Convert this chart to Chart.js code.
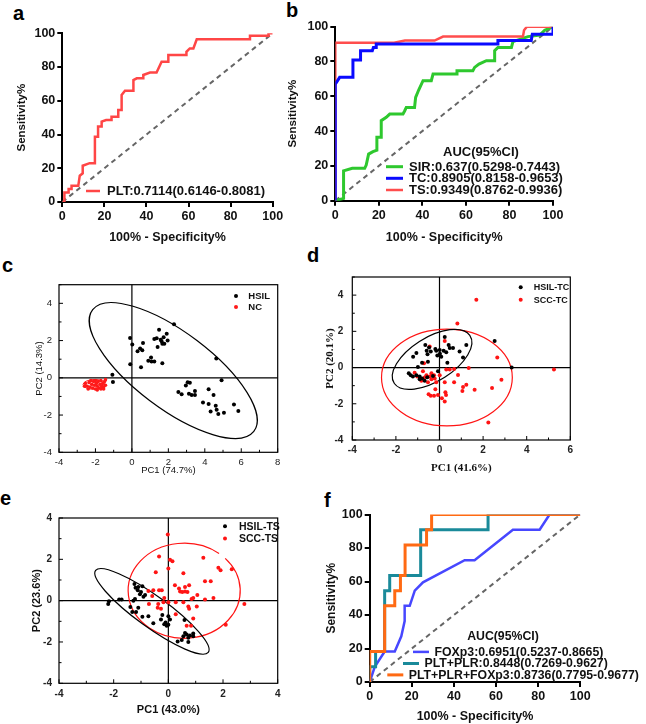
<!DOCTYPE html>
<html>
<head>
<meta charset="utf-8">
<script src="https://cdn.jsdelivr.net/npm/chart.js@4.4.0/dist/chart.umd.min.js"></script>
<style>
  html, body { margin: 0; padding: 0; background: #fff; }
  #fig { position: relative; width: 646px; height: 724px; overflow: hidden; }
  #fig canvas { position: absolute; }
  .lbl { position: absolute; font: bold 20px 'Liberation Sans', Arial, sans-serif; line-height: 1; color: #000; }
</style>
</head>
<body>
<div id="fig">
  <div class="lbl" style="left:13px;top:3px">a</div>
  <div class="lbl" style="left:286px;top:0px">b</div>
  <div class="lbl" style="left:2px;top:255px">c</div>
  <div class="lbl" style="left:307px;top:245px">d</div>
  <div class="lbl" style="left:0px;top:488px">e</div>
  <div class="lbl" style="left:324px;top:490px">f</div>
</div>
<script>
// ===== ROC data (x = 100% - Specificity%, y = Sensitivity%) =====
const rocTicks = [0, 20, 40, 60, 80, 100]
const diag = [[0, 0], [100, 100]]

const plt = [[0,0],[1,0],[1,5.7],[3,5.7],[3,7.7],[4.4,7.7],[4.4,9.7],[7.6,9.7],[8.3,15.6],[9.7,17],[9.7,21.5],[13,23],[15.5,23],[15.5,38.7],[17,38.7],[17,44.7],[18.7,44.7],[18.7,47.6],[20.8,48.6],[23.4,48.6],[23.4,50.6],[26.6,50.6],[26.6,54.5],[28.2,54.5],[28.2,63.4],[29.8,66],[33.8,66],[33.8,72.3],[35.4,73.3],[38.5,73.3],[38.5,75.3],[41.7,76.7],[44.8,76.7],[47.2,83.2],[50.4,83.2],[50.4,87.2],[59,87.2],[59,89],[60.6,91],[62.3,91],[63.9,96.4],[89.2,96.4],[89.2,98.6],[98,98.6],[98,100],[100,100]]

const sir = [[0,0],[3.8,1.3],[3.8,17.2],[7.8,18.6],[13.5,18.6],[14.2,20.5],[15.3,26.8],[17.3,28.2],[19.1,29],[19.1,36.4],[21.1,36.4],[21.1,46],[23.4,47.9],[25,49.8],[31.1,49.8],[31.9,51.7],[32.6,53.6],[36.4,53.6],[36.9,59.4],[38.3,63.6],[40.3,69],[44.1,69],[44.9,72.8],[55.6,72.8],[55.9,74.7],[63.2,74.7],[64,76.6],[66,78.5],[69.4,80.5],[73.2,80.5],[73.2,86.2],[74.7,88.1],[80.9,88.1],[81.6,91.4],[88.5,94.3],[93.9,95.2],[96.2,98],[100,100]]
const tc = [[0,0],[0,67],[1.2,69.3],[2,70.9],[8.1,70.9],[8.1,80.8],[11.6,80.8],[11.6,86.2],[17,86.2],[17.5,88],[18.8,88],[18.8,90],[74.7,90],[74.7,92],[90,92],[90.5,95.6],[100,95.6],[100,100]]
const ts = [[0,0],[0,90.8],[27,90.8],[32,92],[45.6,92],[49.5,94.3],[86.2,94.3],[86.7,98],[88,100],[100,100]]

const foxp3 = [[0,0],[2.4,9.1],[7.1,18.2],[11.9,18.2],[15,27.3],[16.6,36.4],[16.6,45.5],[19,45.5],[21.4,54.5],[25.3,59.5],[45.1,72.7],[49.8,72.7],[68,90.9],[80.7,90.9],[85.4,100],[100,100]]
const pltPlr = [[0,0],[0,9.1],[2.8,9.1],[2.8,18.2],[7.1,18.2],[7.1,54.5],[9.5,54.5],[9.5,63.6],[24.2,63.6],[24.2,90.9],[56.2,90.9],[56.2,100],[100,100]]
const pltPlrFoxp3 = [[0,0],[0,18.2],[7.1,18.2],[7.1,45.5],[11.9,45.5],[11.9,54.5],[14.6,54.5],[14.6,63.6],[16.8,63.6],[16.8,81.8],[27,81.8],[27,90.9],[29.4,90.9],[29.4,100],[100,100]]

const labelsA = ['PLT:0.7114(0.6146-0.8081)']
const labelsB = ['SIR:0.637(0.5298-0.7443)', 'TC:0.8905(0.8158-0.9653)', 'TS:0.9349(0.8762-0.9936)']
const labelsF = ['FOXp3:0.6951(0.5237-0.8665)', 'PLT+PLR:0.8448(0.7269-0.9627)', 'PLT+PLR+FOXp3:0.8736(0.7795-0.9677)']

// ===== PCA data =====
const cXTicks = [-4,-3,-2,-1,0,1,2,3,4,5,6,7,8]
const cYTicks = [-4,-3,-2,-1,0,1,2,3,4,5]
const dXTicks = [-4,-3,-2,-1,0,1,2,3,4,5,6]
const dYTicks = [-4,-3,-2,-1,0,1,2,3,4,5]
const eXTicks = [-4,-3,-2,-1,0,1,2,3,4]
const eYTicks = [-4,-3,-2,-1,0,1,2,3,4]

const hsilC = [[2.31,2.88],[4.63,1.04],[4.92,-0.13],[5.60,-1.43],[5.84,-1.78],[-0.10,2.14],[0.02,1.79],[-0.09,0.73],[0.50,0.57],[0.61,1.87],[0.31,1.43],[0.45,1.57],[0.57,1.48],[0.90,0.92],[1.05,1.09],[1.08,0.87],[1.23,0.88],[1.67,0.78],[1.23,2.09],[1.36,2.13],[1.49,2.58],[1.41,1.66],[1.58,2.04],[1.67,1.83],[1.63,1.97],[1.74,2.18],[1.91,2.36],[1.96,2.01],[1.78,1.83],[-1.07,0.17],[-1.04,-0.22],[3.06,-0.24],[3.18,-0.27],[2.96,-0.41],[2.55,-0.76],[2.73,-0.88],[3.13,-0.85],[3.28,-0.92],[3.46,-0.71],[3.46,-0.92],[4.21,-0.62],[4.48,-0.92],[3.90,-1.32],[4.21,-1.41],[4.60,-1.50],[4.32,-1.81],[4.65,-1.71],[4.74,-1.95],[5.05,-1.88]]
const ncC = [[-2.55,-0.3],[-2.45,-0.45],[-2.35,-0.25],[-2.3,-0.5],[-2.2,-0.35],[-2.15,-0.55],[-2.1,-0.2],[-2.05,-0.4],[-2.0,-0.6],[-1.95,-0.3],[-1.9,-0.45],[-1.85,-0.2],[-1.8,-0.55],[-1.75,-0.35],[-1.7,-0.15],[-1.65,-0.45],[-1.6,-0.3],[-1.55,-0.5],[-1.5,-0.2],[-1.45,-0.4],[-1.45,-0.1],[-2.25,-0.15],[-2.4,-0.6],[-1.9,-0.65],[-1.7,-0.6],[-2.6,-0.45],[-2.0,-0.15],[-1.55,-0.6]]

const hsilTC = [[2.53,1.46],[3.31,0.0],[0.24,1.69],[1.23,1.25],[0.92,0.88],[1.08,0.55],[0.36,0.27],[-0.65,1.25],[-0.48,1.11],[-0.59,0.93],[-0.40,0.88],[-0.55,0.73],[-1.06,0.80],[-1.21,0.59],[-0.99,0.03],[-0.80,0.27],[-0.53,0.32],[-0.15,0.93],[-0.10,0.67],[0.02,0.76],[0.08,0.59],[0.19,0.93],[0.31,0.85],[0.42,1.25],[0.47,1.08],[0.62,1.08],[-0.19,1.02],[0.01,0.97],[-1.41,-0.32],[-1.32,-0.43],[-1.22,-0.50],[-1.06,-0.43],[-0.91,-0.50],[-0.91,-0.64],[-0.80,-0.60],[-0.68,-0.73],[-0.56,-0.53],[-0.30,-0.46],[-0.07,-0.20]]
const sccTC = [[1.69,3.74],[0.82,2.43],[0.24,1.46],[-0.45,1.16],[2.65,0.55],[2.84,-0.67],[5.25,-0.11],[1.34,-0.03],[2.41,-1.13],[2.24,-3.04],[1.61,-1.22],[1.23,-0.95],[1.08,-1.08],[1.05,-1.29],[0.67,-0.81],[0.85,-0.41],[0.67,-0.08],[0.31,-0.11],[0.24,-0.81],[0.27,-1.37],[0.30,-1.51],[0.24,-1.87],[0.11,-1.69],[-0.07,-1.51],[-0.19,-1.2],[-0.25,-1.55],[-0.40,-1.55],[-0.50,-1.48],[-0.71,0.24],[-0.60,-0.43],[-0.45,-0.50],[-0.37,-0.64],[-0.25,-0.43],[-0.22,-0.60],[-0.37,-0.32],[-0.15,-0.81],[-1.14,-0.29],[-1.02,-0.50],[-0.83,-0.73],[-0.68,-0.55],[-0.76,-0.2],[-0.53,-0.81],[0.01,-0.43],[0.47,-0.11]]

const hsilTS = [[-2.20,-0.16],[-2.17,-0.03],[-1.80,0.05],[-1.71,0.05],[-1.24,0.81],[-1.20,0.63],[-1.12,0.5],[-1.10,0.66],[-1.04,0.31],[-1.00,0.42],[-0.95,0.70],[-0.91,0.19],[-0.85,0.27],[-1.22,0.08],[-1.28,0],[-1.39,-0.31],[-1.32,-0.55],[-1.10,-0.34],[-1.18,-0.55],[-0.95,-0.78],[-0.73,-0.75],[-0.55,-1.09],[-0.27,-0.91],[-0.22,-0.70],[0,-0.75],[0.06,-0.91],[-0.15,-1.14],[-0.06,-1.22],[0,-1.17],[-0.10,-1.06],[0.59,-0.94],[0.61,-1.56],[0.67,-1.64],[0.55,-1.72],[0.73,-1.80],[0.79,-1.69],[0.91,-1.59],[0.91,-1.72],[0.34,-1.98],[0.49,-1.91],[0.73,-2.0]]
const sccTS = [[-0.02,3.20],[-0.34,2.14],[-0.46,1.38],[0.06,1.98],[0.15,1.91],[0,1.56],[0.55,1.33],[1.28,2.08],[1.83,1.59],[1.91,1.47],[2.32,1.52],[1.34,0.94],[1.55,0.94],[1.65,0.13],[1.34,0.06],[2.78,-0.16],[2.10,-1.17],[0.24,0.75],[0.39,0.59],[0.43,0.44],[0.51,0.42],[0.61,0.66],[0.70,0.42],[0.76,0.75],[0.61,0.44],[0.85,0.08],[0.91,0.13],[1.06,0.27],[0.55,-0.08],[0.73,-0.28],[0.76,-0.39],[1.04,-0.28],[0.91,-0.86],[0.67,-1.22],[0.83,-1.22],[0.27,-0.66],[0.27,-0.08],[0,-0.08],[-0.15,0.13],[-0.24,0.5],[-0.34,0.5],[-0.39,-0.34],[-0.27,-0.39],[-0.37,-0.16],[-0.55,0.5],[-0.73,0.47],[-0.59,0.23],[-0.71,-0.16],[-0.18,-0.08]]

// confidence ellipses: [cx, cy, ux, uy, vx, vy] (center + two conjugate semi-axes)
const ellHsilC = [2.27, 0.39, 4.42, -3.27, -1.30, -1.61]
const ellNcC = [-2.08, -0.35, 0.6, 0.02, 0, 0.26]
const ellHsilTC = [-0.34, 0.45, 1.73, 1.33, 0.58, -0.99]
const ellSccTC = [0.34, -0.55, 3.0, 0, 0, 2.67]
const ellHsilTS = [-0.60, -0.52, 2.06, -1.98, -0.35, -0.60]
const ellSccTS = [0.58, 0.48, 2.05, 0, 0, 2.3]

const SANS = "'Liberation Sans', Arial, sans-serif"
const SERIF = "'Liberation Serif', 'Times New Roman', serif"
const fig = document.getElementById('fig')

// ===== plugins =====
const insetLegend = {
  id: 'insetLegend',
  afterDatasetsDraw(chart, args, opts) {
    if (!opts || !opts.rows) return
    const ctx = chart.ctx
    const a = chart.chartArea
    ctx.save()
    ctx.font = opts.font
    ctx.textBaseline = 'middle'
    ctx.fillStyle = opts.textColor || '#111'
    if (opts.title) {
      ctx.textAlign = 'center'
      ctx.fillText(opts.title, a.left + opts.titleX, a.top + opts.titleY)
    }
    ctx.textAlign = 'left'
    const sets = chart.data.datasets.filter(d => d.label)
    sets.forEach((d, i) => {
      const r = opts.rows[i]
      const x = a.left + r[0]
      const y = a.top + r[1]
      if (opts.marker === 'dot') {
        ctx.fillStyle = d.backgroundColor
        ctx.beginPath()
        ctx.arc(x, y, opts.dotR || 2, 0, Math.PI * 2)
        ctx.fill()
        ctx.fillStyle = opts.textColor || '#111'
        ctx.fillText(d.label, x + opts.gap, y + 0.5)
      } else {
        ctx.strokeStyle = d.borderColor
        ctx.lineWidth = d.borderWidth
        ctx.beginPath()
        ctx.moveTo(x, y)
        ctx.lineTo(x + opts.swatchW, y)
        ctx.stroke()
        ctx.fillText(d.label, x + opts.swatchW + opts.gap, y + 0.5)
      }
    })
    ctx.restore()
  }
}

const pcaFrame = {
  id: 'pcaFrame',
  beforeDatasetsDraw(chart, args, opts) {
    const { ctx, chartArea: a, scales } = chart
    const xs = scales.x, ys = scales.y
    ctx.save()
    ctx.strokeStyle = '#000'
    ctx.lineWidth = 1.2
    ctx.strokeRect(a.left, a.top, a.right - a.left, a.bottom - a.top)
    const x0 = xs.getPixelForValue(0)
    const y0 = ys.getPixelForValue(0)
    ctx.beginPath()
    ctx.moveTo(x0, a.top); ctx.lineTo(x0, a.bottom)
    ctx.moveTo(a.left, y0); ctx.lineTo(a.right, y0)
    ctx.stroke()
    // inner tick marks
    ctx.lineWidth = 1
    ctx.beginPath()
    xs.ticks.forEach(t => {
      const px = xs.getPixelForValue(t.value)
      const len = t.value % 2 ? 2.5 : 4
      ctx.moveTo(px, a.bottom); ctx.lineTo(px, a.bottom - len)
    })
    ys.ticks.forEach(t => {
      const py = ys.getPixelForValue(t.value)
      const len = t.value % 2 ? 2.5 : 4
      ctx.moveTo(a.left, py); ctx.lineTo(a.left + len, py)
    })
    ctx.stroke()
    // confidence ellipses
    ;(opts.ellipses || []).forEach(el => {
      const p = el.e
      const ex = xs.getPixelForValue(p[0]), ey = ys.getPixelForValue(p[1])
      const m = [
        xs.getPixelForValue(p[0] + p[2]) - ex, ys.getPixelForValue(p[1] + p[3]) - ey,
        xs.getPixelForValue(p[0] + p[4]) - ex, ys.getPixelForValue(p[1] + p[5]) - ey
      ]
      ctx.save()
      ctx.beginPath()
      ctx.transform(m[0], m[1], m[2], m[3], ex, ey)
      const g = el.gap || [0, 0]
      ctx.arc(0, 0, 1, g[1], g[0] + Math.PI * 2)
      ctx.restore()
      ctx.strokeStyle = el.color
      ctx.lineWidth = el.width || 1.2
      ctx.stroke()
    })
    ctx.restore()
  }
}

// ===== helpers =====
function addCanvas(box) {
  const c = document.createElement('canvas')
  c.width = box.w
  c.height = box.h
  c.style.left = box.l + 'px'
  c.style.top = box.t + 'px'
  fig.appendChild(c)
  return c
}

function fit(box, area) {
  return {
    padding: { left: 0, bottom: 0, top: area.t - box.t, right: box.l + box.w - area.r },
    yW: area.l - box.l,
    xH: box.t + box.h - area.b
  }
}

function setTicks(list) {
  return s => { s.ticks = list.map(v => ({ value: v })) }
}

function rocChart(p) {
  const g = fit(p.box, p.area)
  const yPad = p.yTitleX - p.box.l - p.yTitleSize * 0.6
  const xPad = p.box.t + p.box.h - p.xTitleY - p.xTitleSize * 0.6
  const axis = {
    type: 'linear', min: 0, max: 100,
    grid: { display: true, drawOnChartArea: false, drawTicks: true, tickLength: 5, color: '#000', lineWidth: 2 },
    border: { display: true, color: '#000', width: 2 },
    ticks: { color: '#111', font: { family: SANS, size: 12.5, weight: 'bold' }, padding: 2, maxRotation: 0, autoSkip: false }
  }
  new Chart(addCanvas(p.box), {
    type: 'line',
    data: {
      datasets: p.series.map(s => ({
        label: s.label, data: s.data, borderColor: s.color, borderWidth: s.width,
        pointRadius: 0, tension: 0, fill: false, order: s.order
      })).concat([{
        data: diag, borderColor: '#666', borderWidth: 2, borderDash: [5, 4],
        pointRadius: 0, tension: 0, fill: false, order: 10
      }])
    },
    options: {
      responsive: false, animation: false, devicePixelRatio: 1,
      layout: { padding: g.padding },
      plugins: { legend: { display: false }, tooltip: { enabled: false }, insetLegend: p.legend },
      scales: {
        x: Object.assign({}, axis, {
          afterBuildTicks: setTicks(rocTicks),
          afterFit: s => { s.height = g.xH },
          title: { display: true, text: '100% - Specificity%', color: '#111', padding: { top: 0, bottom: xPad }, font: { family: SANS, size: p.xTitleSize, weight: 'bold' } }
        }),
        y: Object.assign({}, axis, {
          afterBuildTicks: setTicks(rocTicks),
          afterFit: s => { s.width = g.yW },
          title: { display: true, text: 'Sensitivity%', color: '#111', padding: { top: yPad, bottom: 0 }, font: { family: SANS, size: p.yTitleSize, weight: 'bold' } }
        })
      }
    },
    plugins: [insetLegend]
  })
}

function pcaChart(p) {
  const g = fit(p.box, p.area)
  const yPad = p.yTitleX - p.box.l - p.titleFont.size * 0.6
  const xPad = p.box.t + p.box.h - p.xTitleY - p.titleFont.size * 0.6
  const axis = {
    type: 'linear',
    grid: { display: false, drawTicks: false },
    border: { display: false },
    ticks: {
      color: '#222', font: p.tickFont, maxRotation: 0, autoSkip: false,
      callback: v => (v % 2 === 0 ? v : '')
    }
  }
  new Chart(addCanvas(p.box), {
    type: 'scatter',
    data: {
      datasets: p.series.map(s => ({
        label: s.label, data: s.data, backgroundColor: s.color, borderColor: s.color,
        borderWidth: 0, pointRadius: s.r || 2, pointHoverRadius: 0
      }))
    },
    options: {
      responsive: false, animation: false, devicePixelRatio: 1,
      layout: { padding: g.padding },
      plugins: {
        legend: { display: false }, tooltip: { enabled: false },
        insetLegend: p.legend,
        pcaFrame: { ellipses: p.ellipses }
      },
      scales: {
        x: Object.assign({}, axis, {
          min: p.xTicks[0], max: p.xTicks[p.xTicks.length - 1],
          afterBuildTicks: setTicks(p.xTicks),
          afterFit: s => { s.height = g.xH },
          ticks: Object.assign({}, axis.ticks, { padding: p.xTickPad }),
          title: { display: true, text: p.xTitle, color: '#111', padding: { top: 0, bottom: xPad }, font: p.titleFont }
        }),
        y: Object.assign({}, axis, {
          min: p.yTicks[0], max: p.yTicks[p.yTicks.length - 1],
          afterBuildTicks: setTicks(p.yTicks),
          afterFit: s => { s.width = g.yW },
          ticks: Object.assign({}, axis.ticks, { padding: p.yTickPad }),
          title: { display: true, text: p.yTitle, color: '#111', padding: { top: yPad, bottom: 0 }, font: p.titleFont }
        })
      }
    },
    plugins: [pcaFrame, insetLegend]
  })
}

// ===== panel a =====
rocChart({
  box: { l: 0, t: 20, w: 300, h: 232 },
  area: { l: 62.3, r: 272.7, t: 33.3, b: 202 },
  yTitleX: 21.7, yTitleSize: 11.5, xTitleY: 238, xTitleSize: 12.5,
  series: [{ label: labelsA[0], data: plt, color: '#ff4646', width: 2.5, order: 1 }],
  legend: { rows: [[23.7, 157.7]], swatchW: 14, gap: 7, font: 'bold 13px ' + SANS }
})

// ===== panel b =====
rocChart({
  box: { l: 282, t: 14, w: 364, h: 238 },
  area: { l: 335.3, r: 553, t: 26.7, b: 200.7 },
  yTitleX: 293.3, yTitleSize: 11.5, xTitleY: 238, xTitleSize: 12.5,
  series: [
    { label: labelsB[0], data: sir, color: '#2ec82e', width: 3, order: 3 },
    { label: labelsB[1], data: tc, color: '#0a0aff', width: 3, order: 1 },
    { label: labelsB[2], data: ts, color: '#ff4d4d', width: 2.5, order: 2 }
  ],
  legend: {
    title: 'AUC(95%CI)', titleX: 145.7, titleY: 126,
    rows: [[50.7, 140], [50.7, 151.6], [50.7, 163.3]], swatchW: 17, gap: 6, font: 'bold 13px ' + SANS
  }
})

// ===== panel c =====
pcaChart({
  box: { l: 0, t: 272, w: 300, h: 210 },
  area: { l: 59, r: 277.7, t: 281, b: 452.3 },
  xTicks: cXTicks, yTicks: cYTicks,
  xTitle: 'PC1 (74.7%)', yTitle: 'PC2 (14.3%)',
  yTitleX: 39, xTitleY: 470,
  titleFont: { family: SANS, size: 9.5 },
  tickFont: { family: SANS, size: 9.5 },
  xTickPad: 4, yTickPad: 7,
  series: [
    { label: 'HSIL', data: hsilC, color: '#000' },
    { label: 'NC', data: ncC, color: '#ff1a1a', r: 1.8 }
  ],
  ellipses: [{ e: ellHsilC, color: '#000', width: 1.2 }, { e: ellNcC, color: '#ff1a1a', width: 1 }],
  legend: { marker: 'dot', rows: [[177, 11.3], [177, 22.3]], gap: 12.3, dotR: 2, font: 'bold 9.5px ' + SANS }
})

// ===== panel d =====
pcaChart({
  box: { l: 315, t: 262, w: 300, h: 216 },
  area: { l: 352.3, r: 570.3, t: 269, b: 440 },
  xTicks: dXTicks, yTicks: dYTicks,
  xTitle: 'PC1 (41.6%)', yTitle: 'PC2 (20.1%)',
  yTitleX: 330.3, xTitleY: 467.7,
  titleFont: { family: SERIF, size: 11, weight: 'bold' },
  tickFont: { family: SANS, size: 10, weight: 'bold' },
  xTickPad: 4, yTickPad: 9,
  series: [
    { label: 'HSIL-TC', data: hsilTC, color: '#000' },
    { label: 'SCC-TC', data: sccTC, color: '#ff1414' }
  ],
  ellipses: [{ e: ellSccTC, color: '#ff1414', width: 1.2 }, { e: ellHsilTC, color: '#000', width: 1.2 }],
  legend: { marker: 'dot', rows: [[168.4, 10.3], [168.4, 22.7]], gap: 13, dotR: 2, font: 'bold 9px ' + SANS }
})

// ===== panel e =====
pcaChart({
  box: { l: 0, t: 505, w: 300, h: 219 },
  area: { l: 59, r: 277.7, t: 512.7, b: 683.3 },
  xTicks: eXTicks, yTicks: eYTicks,
  xTitle: 'PC1 (43.0%)', yTitle: 'PC2 (23.6%)',
  yTitleX: 36.7, xTitleY: 710,
  titleFont: { family: SANS, size: 11, weight: 'bold' },
  tickFont: { family: SANS, size: 10, weight: 'bold' },
  xTickPad: 5, yTickPad: 7,
  series: [
    { label: 'HSIL-TS', data: hsilTS, color: '#000' },
    { label: 'SCC-TS', data: sccTS, color: '#ff1414' }
  ],
  ellipses: [
    { e: ellSccTS, color: '#ff1414', width: 1.2, gap: [0.75, 0.9] },
    { e: ellHsilTS, color: '#000', width: 1.2 }
  ],
  legend: { marker: 'dot', rows: [[166, 8.3], [166, 20.6]], gap: 14, dotR: 2, font: 'bold 10.5px ' + SANS }
})

// ===== panel f =====
rocChart({
  box: { l: 315, t: 505, w: 331, h: 219 },
  area: { l: 369.7, r: 580.3, t: 513.3, b: 682 },
  yTitleX: 331.3, yTitleSize: 12, xTitleY: 717, xTitleSize: 12.5,
  series: [
    { label: labelsF[0], data: foxp3, color: '#4747ff', width: 2.5, order: 3 },
    { label: labelsF[1], data: pltPlr, color: '#1a8a9a', width: 3, order: 2 },
    { label: labelsF[2], data: pltPlrFoxp3, color: '#ff6a13', width: 3, order: 1 }
  ],
  legend: {
    title: 'AUC(95%CI)', titleX: 133.3, titleY: 122.4,
    rows: [[43.3, 137.4], [33.3, 149], [17.6, 160.4]], swatchW: 16, gap: 5.5, font: 'bold 12.3px ' + SANS
  }
})
</script>
</body>
</html>
